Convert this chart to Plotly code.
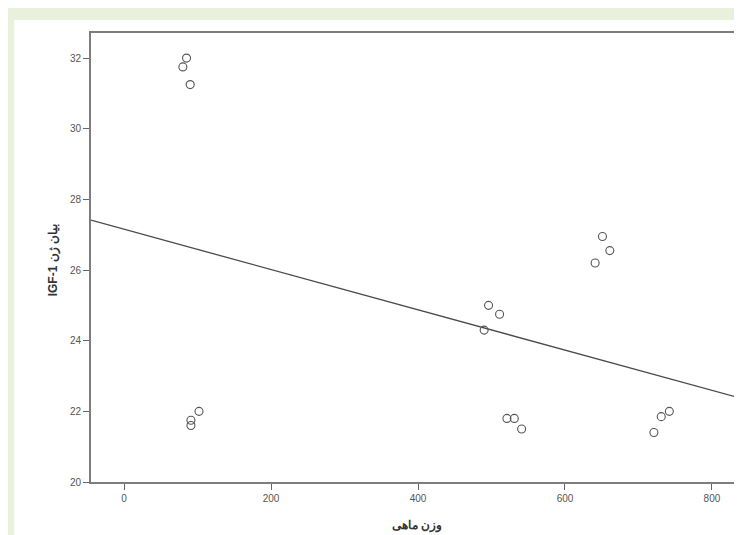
import numpy as np
import plotly.graph_objects as go

# Data
fish_weight = [85, 80, 90, 102, 91, 91, 496, 511, 490, 521, 531, 541,
               651, 661, 641, 742, 731, 721]
igf1_expr = [32.0, 31.75, 31.25, 22.0, 21.75, 21.6, 25.0, 24.75, 24.3,
             21.8, 21.8, 21.5, 26.95, 26.55, 26.2, 22.0, 21.85, 21.4]
x_ticks = [0, 200, 400, 600, 800]
y_ticks = [20, 22, 24, 26, 28, 30, 32]
x_range = [-45, 843.6]
y_range = [20, 32.71]
x_title = "وزن ماهی"
y_title = "IGF-1 بیان ژن"

# Linear fit line (least squares) across the x axis range
slope, intercept = np.polyfit(fish_weight, igf1_expr, 1)
fit_x = np.array(x_range)
fit_y = slope * fit_x + intercept

fig = go.Figure()
fig.add_trace(go.Scatter(
    x=fit_x, y=fit_y, mode="lines",
    line=dict(color="#4a4a4a", width=1.3),
    hoverinfo="skip", showlegend=False, cliponaxis=True,
))
fig.add_trace(go.Scatter(
    x=fish_weight, y=igf1_expr, mode="markers",
    marker=dict(symbol="circle-open", size=8, color="#555555",
                line=dict(width=1.1, color="#555555")),
    showlegend=False,
))

axis_common = dict(
    showgrid=False, zeroline=False, showline=True, mirror=True,
    linecolor="#7d7d7d", linewidth=2,
    ticks="outside", ticklen=6, tickwidth=1, tickcolor="#666666",
    tickfont=dict(family="Liberation Sans Narrow, Liberation Sans, Arial, sans-serif", size=10, color="#555555"),
)

fig.update_xaxes(range=x_range, tickvals=x_ticks, **axis_common)
fig.update_yaxes(range=y_range, tickvals=y_ticks, **axis_common)

fig.update_layout(
    width=742, height=535,
    margin=dict(l=83, r=4, t=25, b=61),
    paper_bgcolor="#e9f1dc",
    plot_bgcolor="white",
    shapes=[dict(type="rect", xref="paper", yref="paper",
                 x0=-0.1176, x1=1.01, y0=-0.14, y1=1.029,
                 fillcolor="white", line=dict(width=0), layer="below")],
    annotations=[
        dict(text="<b>" + x_title + "</b>", xref="paper", yref="paper", x=0.4995, y=-0.0958,
             xanchor="center", yanchor="middle", showarrow=False,
             font=dict(family="Liberation Sans, Arial, sans-serif", size=12, color="#333333")),
        dict(text="<b>" + y_title + "</b>", xref="paper", yref="paper", x=-0.058, y=0.494,
             xanchor="center", yanchor="middle", showarrow=False, textangle=-90,
             font=dict(family="Liberation Sans, Arial, sans-serif", size=12, color="#333333")),
    ],
)

fig.write_html("out.html")
